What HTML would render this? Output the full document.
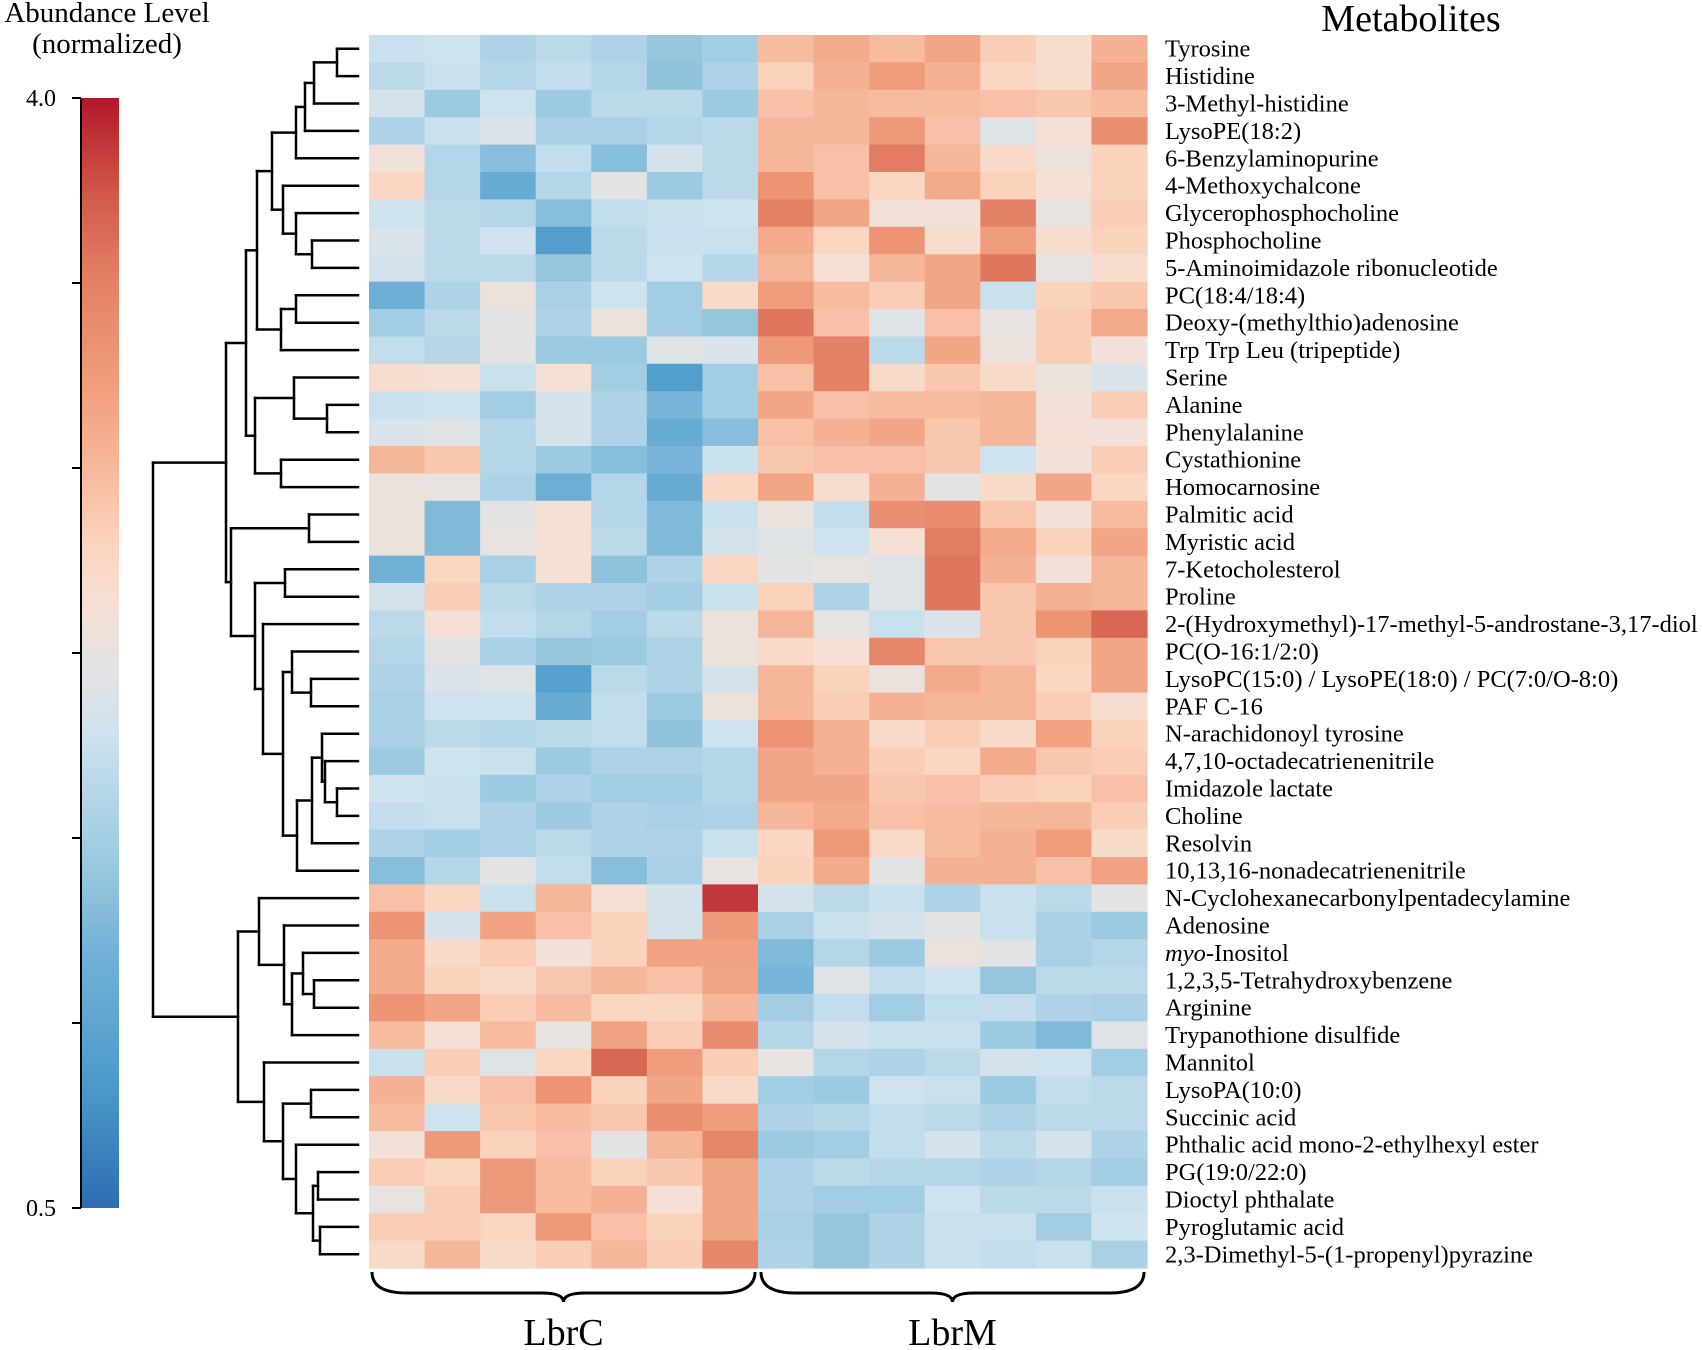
<!DOCTYPE html>
<html><head><meta charset="utf-8"><style>
html,body{margin:0;padding:0;background:#fff;}
svg{display:block;font-family:"Liberation Serif",serif;}
</style></head><body>
<svg id="chart" width="1703" height="1350" viewBox="0 0 1703 1350" xmlns="http://www.w3.org/2000/svg">
<defs>
<linearGradient id="cbgrad" x1="0" y1="1" x2="0" y2="0"></linearGradient>
</defs>
<g>
<text x="107" y="22" font-size="29" text-anchor="middle">Abundance Level</text>
<text x="107" y="53" font-size="29" text-anchor="middle">(normalized)</text>
</g>
<text x="1411" y="31" font-size="38" text-anchor="middle">Metabolites</text>
<g id="cbar"></g>
<g id="dend"></g>
<g id="cells"></g>
<g id="labels"></g>
<g id="groups"></g>
</svg>
<script>
const rowLabels = ["Tyrosine","Histidine","3-Methyl-histidine","LysoPE(18:2)","6-Benzylaminopurine","4-Methoxychalcone","Glycerophosphocholine","Phosphocholine","5-Aminoimidazole ribonucleotide","PC(18:4/18:4)","Deoxy-(methylthio)adenosine","Trp Trp Leu (tripeptide)","Serine","Alanine","Phenylalanine","Cystathionine","Homocarnosine","Palmitic acid","Myristic acid","7-Ketocholesterol","Proline","2-(Hydroxymethyl)-17-methyl-5-androstane-3,17-diol","PC(O-16:1/2:0)","LysoPC(15:0) / LysoPE(18:0) / PC(7:0/O-8:0)","PAF C-16","N-arachidonoyl tyrosine","4,7,10-octadecatrienenitrile","Imidazole lactate","Choline","Resolvin","10,13,16-nonadecatrienenitrile","N-Cyclohexanecarbonylpentadecylamine","Adenosine","myo-Inositol","1,2,3,5-Tetrahydroxybenzene","Arginine","Trypanothione disulfide","Mannitol","LysoPA(10:0)","Succinic acid","Phthalic acid mono-2-ethylhexyl ester","PG(19:0/22:0)","Dioctyl phthalate","Pyroglutamic acid","2,3-Dimethyl-5-(1-propenyl)pyrazine"];
const groupNames = ["LbrC","LbrM"];
const groupSizes = [7,7];
const colorTicks = [0.5,4.0];
const values = [
[1.95,2.0,1.75,1.85,1.75,1.55,1.65, 2.8,2.95,2.8,3.0,2.65,2.45,2.9],
[1.85,1.95,1.8,1.9,1.8,1.5,1.75, 2.6,2.9,3.1,2.9,2.55,2.45,3.0],
[2.05,1.6,2.0,1.6,1.85,1.85,1.6, 2.75,2.85,2.8,2.8,2.75,2.7,2.8],
[1.75,1.95,2.1,1.7,1.7,1.8,1.85, 2.85,2.85,3.15,2.75,2.15,2.4,3.25],
[2.35,1.8,1.45,1.9,1.45,2.05,1.85, 2.85,2.75,3.45,2.85,2.5,2.3,2.6],
[2.55,1.8,1.2,1.8,2.2,1.6,1.85, 3.2,2.75,2.55,2.95,2.6,2.4,2.6],
[2.0,1.85,1.8,1.45,1.9,1.95,2.0, 3.4,3.0,2.35,2.35,3.4,2.25,2.65],
[2.1,1.85,2.0,0.95,1.85,1.95,1.95, 2.95,2.55,3.2,2.45,3.1,2.45,2.6],
[2.05,1.85,1.85,1.55,1.85,2.0,1.8, 2.85,2.4,2.85,3.0,3.5,2.25,2.45],
[1.25,1.75,2.3,1.7,2.0,1.65,2.5, 3.1,2.8,2.65,3.0,1.95,2.6,2.7],
[1.65,1.85,2.2,1.75,2.3,1.65,1.55, 3.5,2.75,2.15,2.75,2.25,2.65,2.95],
[1.9,1.8,2.2,1.6,1.6,2.15,2.1, 3.15,3.4,1.85,3.0,2.3,2.65,2.35],
[2.45,2.4,1.95,2.4,1.65,0.95,1.65, 2.75,3.4,2.5,2.7,2.5,2.3,2.1],
[1.95,2.0,1.65,2.05,1.75,1.35,1.65, 3.0,2.75,2.8,2.8,2.85,2.35,2.65],
[2.1,2.15,1.8,2.05,1.75,1.2,1.45, 2.75,2.9,3.0,2.7,2.85,2.4,2.35],
[2.85,2.7,1.8,1.6,1.45,1.35,1.95, 2.7,2.75,2.75,2.7,2.0,2.35,2.65],
[2.3,2.25,1.75,1.25,1.8,1.2,2.55, 3.0,2.45,2.9,2.2,2.5,3.0,2.55],
[2.3,1.4,2.2,2.4,1.8,1.4,1.95, 2.3,1.9,3.25,3.3,2.7,2.35,2.8],
[2.3,1.4,2.25,2.4,1.85,1.4,2.05, 2.15,2.0,2.4,3.45,2.95,2.6,3.0],
[1.3,2.55,1.7,2.4,1.5,1.75,2.55, 2.2,2.25,2.15,3.5,2.9,2.35,2.85],
[2.05,2.65,1.85,1.75,1.75,1.65,1.95, 2.6,1.75,2.15,3.5,2.7,2.9,2.85],
[1.85,2.4,1.9,1.8,1.65,1.85,2.3, 2.85,2.25,1.95,2.1,2.7,3.2,3.6],
[1.8,2.2,1.7,1.55,1.6,1.75,2.3, 2.5,2.4,3.35,2.7,2.7,2.6,3.0],
[1.75,2.1,2.15,1.0,1.85,1.75,2.05, 2.85,2.6,2.3,2.95,2.85,2.55,3.0],
[1.7,2.0,2.0,1.2,1.9,1.6,2.3, 2.85,2.65,2.9,2.85,2.85,2.65,2.45],
[1.7,1.85,1.8,1.85,1.9,1.5,2.0, 3.2,2.9,2.5,2.65,2.5,3.05,2.6],
[1.6,2.0,1.95,1.6,1.75,1.75,1.8, 3.0,2.9,2.65,2.55,2.95,2.7,2.65],
[2.0,1.95,1.6,1.75,1.65,1.65,1.8, 3.0,3.0,2.7,2.75,2.65,2.6,2.75],
[1.9,1.95,1.75,1.6,1.75,1.7,1.75, 2.85,2.95,2.75,2.8,2.85,2.85,2.65],
[1.75,1.65,1.75,1.85,1.75,1.75,1.95, 2.55,3.15,2.5,2.8,2.9,3.1,2.5],
[1.45,1.8,2.2,1.9,1.45,1.7,2.25, 2.6,2.95,2.2,2.9,2.9,2.75,3.05],
[2.75,2.55,1.95,2.85,2.4,2.05,3.85, 2.05,1.85,1.95,1.75,1.95,1.85,2.2],
[3.2,2.05,3.05,2.75,2.6,2.05,3.15, 1.7,1.95,2.05,2.2,1.95,1.7,1.6],
[2.95,2.5,2.65,2.35,2.6,3.05,3.05, 1.4,1.8,1.6,2.3,2.2,1.7,1.8],
[2.95,2.6,2.5,2.7,2.85,2.75,3.0, 1.35,2.15,1.9,2.0,1.55,1.85,1.85],
[3.2,3.0,2.65,2.8,2.55,2.55,2.85, 1.65,1.9,1.65,1.9,1.9,1.75,1.7],
[2.8,2.4,2.8,2.25,3.05,2.65,3.3, 1.8,2.05,1.95,1.95,1.6,1.4,2.15],
[1.95,2.65,2.15,2.55,3.6,3.1,2.65, 2.25,1.8,1.75,1.85,2.05,2.0,1.65],
[2.9,2.5,2.75,3.2,2.6,3.0,2.5, 1.65,1.6,2.0,1.95,1.6,1.9,1.85],
[2.8,2.0,2.7,2.8,2.7,3.25,3.1, 1.75,1.8,1.9,1.85,1.75,1.85,1.85],
[2.35,3.15,2.6,2.75,2.2,2.85,3.35, 1.6,1.65,1.9,2.05,1.85,2.05,1.75],
[2.65,2.55,3.15,2.8,2.6,2.7,3.0, 1.75,1.85,1.8,1.8,1.75,1.8,1.65],
[2.25,2.65,3.15,2.8,2.9,2.4,3.0, 1.75,1.65,1.65,2.0,1.85,1.85,1.95],
[2.65,2.65,2.55,3.15,2.75,2.6,3.0, 1.7,1.55,1.75,1.95,1.95,1.65,2.0],
[2.5,2.85,2.5,2.65,2.85,2.65,3.35, 1.75,1.55,1.75,1.95,1.9,1.95,1.7]
];
// dendrogram: [height, left, right]; leaves are row indices
const dendroTree = [205,
  [132,
    [112,
      [101,
        [86,[62,[53,[44,[21,0,1],2],3],4],[75,5,[62,6,[46,7,8]]]],
        [77,[62,9,10],11]],
      [103,[64,12,[31,13,14]],[77,15,16]]],
    [127,[49,17,18],
      [103,[73,19,20],
        [95,21,[75,[66,22,[47,23,24]],[61,[46,[36,25,[33,26,[21,27,28]]],29],30]]]]]],
  [120,
    [99,31,[74,32,[66,[55,33,[44,34,35]],36]]],
    [94,37,[75,[47,38,39],[62,40,[45,[40,41,42],[38,43,44]]]]]]];

const NS="http://www.w3.org/2000/svg";
const X0=369, X1=1147, Y0=35, Y1=1268;
const nRows=values.length, nCols=values[0].length;
const cw=(X1-X0)/nCols, rh=(Y1-Y0)/nRows;
const cStops=[[0.5,"#2c6db2"],[0.9,"#4d9bcb"],[1.3,"#72b1d6"],[1.6,"#9ccae0"],[1.8,"#b5d6e8"],[2.0,"#cfe3ee"],[2.2,"#e3e3e3"],[2.4,"#f5e0d5"],[2.6,"#fbd3bd"],[2.8,"#f7bba0"],[3.0,"#f3a686"],[3.2,"#ec9474"],[3.45,"#e27d64"],[3.7,"#d25848"],[4.0,"#b2182b"]];
function hex(c){return [parseInt(c.slice(1,3),16),parseInt(c.slice(3,5),16),parseInt(c.slice(5,7),16)];}
function color(v){
  if(v<=cStops[0][0]) return cStops[0][1];
  for(let i=1;i<cStops.length;i++){
    if(v<=cStops[i][0]){
      const a=hex(cStops[i-1][1]),b=hex(cStops[i][1]);
      const t=(v-cStops[i-1][0])/(cStops[i][0]-cStops[i-1][0]);
      return "rgb("+a.map((x,k)=>Math.round(x+(b[k]-x)*t)).join(",")+")";
    }
  }
  return cStops[cStops.length-1][1];
}
function xCol(j){return X0+j*cw;}
function yRow(i){return Y0+i*rh;}
function el(tag,attrs,parent){const e=document.createElementNS(NS,tag);for(const k in attrs)e.setAttribute(k,attrs[k]);parent.appendChild(e);return e;}

const cells=document.getElementById("cells");
values.forEach((row,i)=>row.forEach((v,j)=>{
  const r=el("rect",{x:xCol(j).toFixed(2),y:yRow(i).toFixed(2),width:(cw+0.6).toFixed(2),height:(rh+0.6).toFixed(2),fill:color(v)},cells);
  
  
}));

const labels=document.getElementById("labels");
rowLabels.forEach((t,i)=>{
  const tx=el("text",{x:1165,y:(yRow(i)+rh/2+8).toFixed(1),"font-size":24.5},labels);
  
  
  if(t.startsWith("myo-")){
    const a=el("tspan",{"font-style":"italic"},tx);a.textContent="myo";
    const b=el("tspan",{},tx);b.textContent=t.slice(3);
  } else tx.textContent=t;
});

const dend=document.getElementById("dend");
const LEAFX=358;
function xd(h){return LEAFX-h;}
function line(x1,y1,x2,y2){
  const l=el("line",{x1:x1,y1:y1,x2:x2,y2:y2,stroke:"#000","stroke-width":2.5,"stroke-linecap":"square"},dend);
  
  
}
function walk(n){
  if(typeof n==="number") return {y:yRow(n)+rh/2,h:0};
  const a=walk(n[1]), b=walk(n[2]);
  const x=xd(n[0]);
  line(x,a.y,xd(a.h),a.y);
  line(x,b.y,xd(b.h),b.y);
  line(x,a.y,x,b.y);
  return {y:(a.y+b.y)/2,h:n[0]};
}
walk(dendroTree);

const CBX=81, CBW=38, CBT=98, CBB=1208;
const cbar=document.getElementById("cbar");
const grad=document.getElementById("cbgrad");
cStops.forEach(s=>{el("stop",{offset:((s[0]-0.5)/3.5).toFixed(4),"stop-color":s[1]},grad);});
const cb=el("rect",{x:CBX,y:CBT,width:CBW,height:CBB-CBT,fill:"url(#cbgrad)"},cbar);


el("line",{x1:CBX,y1:CBT,x2:CBX,y2:CBB,stroke:"#000","stroke-width":2},cbar);
function yCb(v){return CBB-(v-0.5)/3.5*(CBB-CBT);}
for(let k=0;k<=6;k++){
  const v=0.5+k*3.5/6;
  const t=el("line",{x1:CBX-9,y1:yCb(v),x2:CBX,y2:yCb(v),stroke:"#000","stroke-width":2},cbar);
  
  
}
colorTicks.forEach(v=>{
  const t=el("text",{x:41,y:(yCb(v)+8).toFixed(1),"font-size":24,"text-anchor":"middle"},cbar);
  
  
  t.textContent=v.toFixed(1);
});

const groups=document.getElementById("groups");
let start=0;
groupNames.forEach((g,gi)=>{
  const xa=xCol(start)+3, xb=xCol(start+groupSizes[gi])-3, m=(xa+xb)/2;
  const yt=1272, ym=1293, yp=1302;
  const d=`M${xa},${yt} Q${xa},${ym} ${xa+35},${ym} L${m-22},${ym} Q${m},${ym} ${m},${yp} Q${m},${ym} ${m+22},${ym} L${xb-35},${ym} Q${xb},${ym} ${xb},${yt}`;
  const p=el("path",{d:d,fill:"none",stroke:"#000","stroke-width":3},groups);
  
  
  const t=el("text",{x:m,y:1345,"font-size":38,"text-anchor":"middle"},groups);
  
  
  t.textContent=g;
  start+=groupSizes[gi];
});
</script>
</body></html>
